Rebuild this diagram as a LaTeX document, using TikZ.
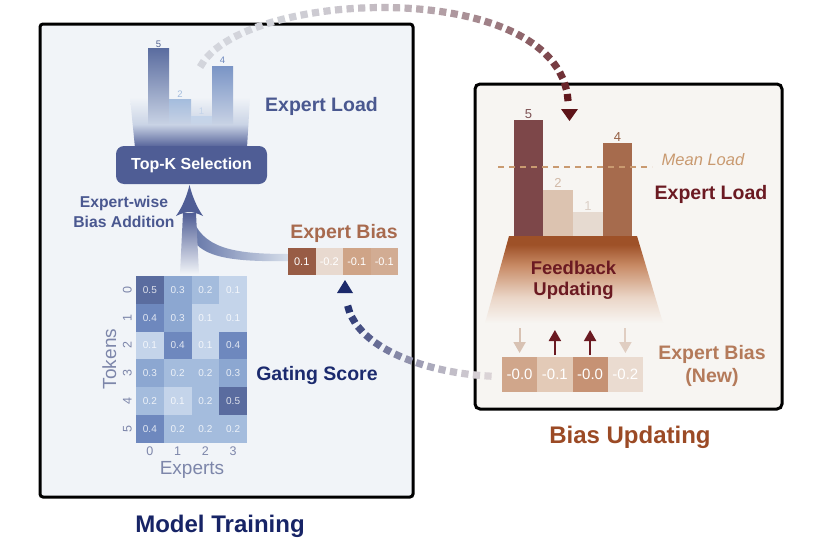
\documentclass[tikz,border=0pt]{standalone}
\usepackage{fontspec}
\setmainfont{Liberation Sans}
\usetikzlibrary{decorations.markings,arrows.meta}

\definecolor{lbg}{HTML}{F1F4F8}
\definecolor{rbg}{HTML}{F7F5F2}
\definecolor{navyblue}{HTML}{4F5D95}
\definecolor{labblue}{HTML}{4A5890}
\definecolor{gatenavy}{HTML}{1B2A6E}
\definecolor{titlenavy}{HTML}{172466}
\definecolor{biasbrown}{HTML}{A86A4E}
\definecolor{biasupd}{HTML}{9B4A25}
\definecolor{maroon}{HTML}{6B1A22}
\definecolor{meanc}{HTML}{C99A70}
\definecolor{newbiasc}{HTML}{B47A5A}
\definecolor{tickc}{HTML}{7D86AA}
\definecolor{h1}{HTML}{C4D4EA}
\definecolor{h2}{HTML}{A4BCDD}
\definecolor{h3}{HTML}{8CA7D1}
\definecolor{h4}{HTML}{6E88BE}
\definecolor{h5}{HTML}{5A6C9F}
\definecolor{b1}{HTML}{985C45}
\definecolor{b2}{HTML}{E8D9CF}
\definecolor{b3}{HTML}{CFA487}
\definecolor{b4}{HTML}{D2AC93}
\definecolor{c1}{HTML}{D0A68B}
\definecolor{c2}{HTML}{E3CAB7}
\definecolor{c3}{HTML}{C69274}
\definecolor{c4}{HTML}{EADBD0}
\definecolor{r5}{HTML}{7D4749}
\definecolor{r2}{HTML}{DCC3B0}
\definecolor{r1}{HTML}{E6DAD0}
\definecolor{r4}{HTML}{A66B4D}
\definecolor{rt1}{HTML}{9E5128}
\definecolor{rt2}{HTML}{C88B66}
\definecolor{rt3}{HTML}{EAD5C6}
\definecolor{lightarr}{HTML}{D8C2B3}
\definecolor{dashA}{HTML}{D3D5DC}
\definecolor{dashB}{HTML}{5E1419}
\definecolor{dashC}{HTML}{DAD3D6}
\definecolor{dashD}{HTML}{1C2A6B}
\definecolor{bandL}{HTML}{6576A8}
\definecolor{bandR}{HTML}{D6DEEA}
\definecolor{funlight}{HTML}{C9D3E5}
\definecolor{funmid}{HTML}{8E9FC5}

\pgfdeclareverticalshading{rtrap}{100bp}{color(0bp)=(rbg); color(25bp)=(rbg); color(40bp)=(rt3); color(58bp)=(rt2); color(70bp)=(rt1); color(100bp)=(rt1)}

\tikzset{
  lab/.style={font=\bfseries\fontsize{19.5}{23}\selectfont, inner sep=0pt, anchor=base},
  midlab/.style={font=\bfseries\fontsize{18.5}{21}\selectfont, inner sep=0pt, anchor=base},
  bigtitle/.style={font=\bfseries\fontsize{24}{28}\selectfont, inner sep=0pt, anchor=base},
  tick/.style={font=\fontsize{12.5}{14}\selectfont, text=tickc, inner sep=0pt, anchor=base},
  axlab/.style={font=\fontsize{19}{22}\selectfont, text=tickc, inner sep=0pt, anchor=base},
  hcell/.style={minimum width=27.75pt, minimum height=27.8pt, inner sep=0pt, font=\fontsize{10}{12}\selectfont, text=white, text opacity=0.8},
  bcell/.style={minimum width=27.5pt, minimum height=27pt, inner sep=0pt, font=\fontsize{11}{13}\selectfont, text=white},
  ncell/.style={minimum width=35.25pt, minimum height=35pt, inner sep=0pt, font=\fontsize{15}{17}\selectfont, text=white},
  lnum/.style={font=\fontsize{9.5}{11}\selectfont, inner sep=0pt, anchor=base},
  rnum/.style={font=\fontsize{13}{15}\selectfont, inner sep=0pt, anchor=base},
  panel/.style={draw=black, line width=3pt, rounded corners=3pt},
  sqdash/.style n args={3}{decoration={markings, mark=between positions 0 and 1 step 11.6pt with {\pgfmathsetmacro\pc{100*(\pgfkeysvalueof{/pgf/decoration/mark info/distance from start}/\pgfdecoratedpathlength)^#3}\fill[#2!\pc!#1] (-3.6pt,-3.6pt) rectangle (3.6pt,3.6pt);}}, decorate},
  smallarr/.style={line width=2pt, -{Triangle[width=12pt,length=11pt]}},
}

\begin{document}
\begin{tikzpicture}[x=1pt,y=-1pt]
\useasboundingbox (0,0) rectangle (814,554);
\fill[white] (0,0) rectangle (814,554);

% ===== panels =====
\draw[panel, fill=lbg] (40,24) rectangle (413,497);
\draw[panel, fill=rbg, rounded corners=5pt] (475,84) rectangle (782,409);

% ===== left: expert load bars and funnel =====
\shade[top color=lbg, bottom color=funlight] (130,97) -- (250,97) -- (248.4,125) -- (132.7,125) -- cycle;
\shade[top color=h5, middle color=h5!85!h3, bottom color=funlight] (148,48) rectangle (169,125);
\shade[top color=h2, bottom color=funlight] (169,99) rectangle (191,125);
\shade[top color=h1, bottom color=funlight!70!h1] (191,116) rectangle (212,125);
\shade[top color=h4!60!h3, middle color=h3, bottom color=funlight] (212,66) rectangle (233,125);
\shade[top color=funlight, middle color=funmid, bottom color=navyblue] (132.7,124.5) -- (248.4,124.5) -- (247,148) -- (135,148) -- cycle;
\node[lnum, text=h5!90!black] (n5) at (158.5,47) {5};
\node[lnum, text=h2] (n2) at (180,97) {2};
\node[lnum, text=h1] (n1) at (201.5,114) {1};
\node[lnum, text=h4] (n4) at (222.5,63) {4};

\node[rounded corners=8pt, fill=navyblue, minimum width=151pt, minimum height=38pt, inner sep=0pt,
      font=\bfseries\fontsize{16}{19}\selectfont, text=white] (topk) at (191.5,165) {Top-K Selection};
\node[lab, text=labblue] (elL) at (321.5,111) {Expert Load};

% ===== big arrow with bias branch =====
\shade[left color=bandL, right color=bandR] (194,222) .. controls (206,250) and (240,254) .. (288,254) -- (288,261) .. controls (236,262) and (202,258) .. (192,238) -- cycle;
\shade[top color=navyblue, bottom color=lbg] (183,213) -- (196,213) -- (199,274) -- (180,274) -- cycle;
\fill[navyblue] (189.5,185) .. controls (192,195) and (196,206) .. (203,216) .. controls (197,213) and (192,212) .. (189.5,212) .. controls (187,212) and (182,213) .. (176,216) .. controls (183,206) and (187,195) .. (189.5,185) -- cycle;

\node[font=\bfseries\fontsize{15.7}{20}\selectfont, text=labblue, align=center, inner sep=0pt, anchor=base] (ewba) at (124,227) {Expert-wise\\Bias Addition};

% ===== expert bias =====
\node[lab, text=biasbrown] (ebl) at (344,238) {Expert Bias};
\foreach \t/\c [count=\i from 0] in {0.1/b1, -0.2/b2, -0.1/b3, -0.1/b4}{
  \node[bcell, fill=\c] (eb\i) at ({288+27.5*(\i+0.5)},261.5) {\t};
}

% ===== heatmap =====
\foreach \v [count=\i from 0] in {5,3,2,1, 4,3,1,1, 1,4,1,4, 3,2,2,3, 2,1,2,5, 4,2,2,2}{
  \pgfmathtruncatemacro\col{mod(\i,4)}
  \pgfmathtruncatemacro\row{div(\i,4)}
  \node[hcell, fill=h\v] (hm\i) at ({136+27.75*(\col+0.5)},{276+27.8*(\row+0.5)}) {0.\v};
}
\foreach \k in {0,1,2,3}{
  \node[tick] (ct\k) at ({136+27.75*(\k+0.5)},455) {\k};
}
\foreach \k in {0,...,5}{
  \node[tick, rotate=90] (rt\k) at (131.5,{276+27.8*(\k+0.5)}) {\k};
}
\node[axlab, rotate=90] (tok) at (116,359) {Tokens};
\node[axlab] (exps) at (192,474) {Experts};
\node[lab, text=gatenavy] (gs) at (317,380) {Gating Score};

% ===== right panel =====
\shade[shading=rtrap] (509,236) -- (637,236) -- (663,323) -- (485,323) -- cycle;
\fill[r5] (514,120) rectangle (543,236);
\fill[r2] (543,190) rectangle (573,236);
\fill[r1] (573,212) rectangle (603,236);
\fill[r4] (603,143) rectangle (632,236);
\node[rnum, text=r5!80!gray] (m5) at (528.5,118) {5};
\node[rnum, text=r2!95!black] (m2) at (558,187) {2};
\node[rnum, text=r1!95!black] (m1) at (588,210) {1};
\node[rnum, text=r4!90!black] (m4) at (617.5,141) {4};
\coordinate (ml0) at (498,167);
\coordinate (ml1) at (652,167);
\draw[meanc, line width=2pt, dash pattern=on 6pt off 5pt] (ml0) -- (ml1);
\node[font=\itshape\fontsize{16.5}{19}\selectfont, text=meanc, inner sep=0pt, anchor=base] (mean) at (703,165) {Mean Load};
\node[lab, text=maroon] (elR) at (711,199) {Expert Load};
\node[midlab, text=maroon] (fb1) at (573.5,274) {Feedback};
\node[midlab, text=maroon] (fb2) at (573.5,295) {Updating};

\foreach \t/\c [count=\i from 0] in {-0.0/c1, -0.1/c2, -0.0/c3, -0.2/c4}{
  \node[ncell, fill=\c] (nb\i) at ({502+35.25*(\i+0.5)},374.5) {\t};
}
\coordinate (a1s) at (519.6,328); \coordinate (a1e) at (519.6,353);
\coordinate (a2s) at (554.9,355); \coordinate (a2e) at (554.9,330);
\coordinate (a3s) at (590.1,355); \coordinate (a3e) at (590.1,330);
\coordinate (a4s) at (625.4,328); \coordinate (a4e) at (625.4,353);
\draw[smallarr, lightarr] (a1s) -- (a1e);
\draw[smallarr, maroon] (a2s) -- (a2e);
\draw[smallarr, maroon] (a3s) -- (a3e);
\draw[smallarr, lightarr!80!white] (a4s) -- (a4e);
\node[lab, text=newbiasc] (nbl1) at (712,359) {Expert Bias};
\node[lab, text=newbiasc] (nbl2) at (712,382) {(New)};

% ===== titles =====
\node[bigtitle, text=titlenavy] (mt) at (220,532) {Model Training};
\node[bigtitle, text=biasupd] (bu) at (630,443) {Bias Updating};

% ===== dashed feedback curves =====
\coordinate (cs1) at (202,64);
\coordinate (ce1) at (568,101);
\path[sqdash={dashA}{dashB}{2.5}] (cs1) .. controls (250,-12) and (560,-22) .. (ce1);
\fill[dashB] (561,109) -- (578,109) -- (569.5,121) -- cycle;

\coordinate (cs2) at (488,376);
\coordinate (ce2) at (347,301);
\path[sqdash={dashC}{dashD}{1.3}] (cs2) .. controls (420,372) and (352,345) .. (ce2);
\fill[dashD] (337,293) -- (353,293) -- (345,280) -- cycle;
\end{tikzpicture}
\end{document}
